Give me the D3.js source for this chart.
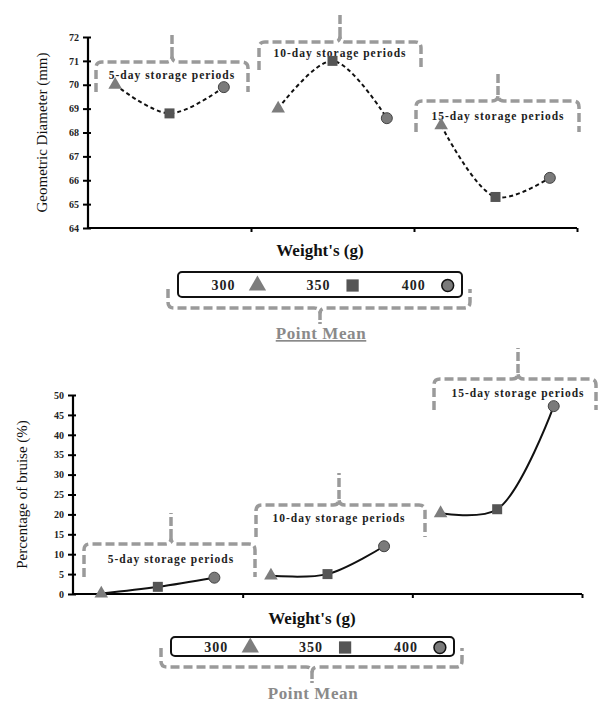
<!DOCTYPE html>
<html><head><meta charset="utf-8">
<script src="https://cdn.jsdelivr.net/npm/d3@7"></script>
<style>
body{margin:0;background:#fff;}
svg{display:block;}
text{font-family:"Liberation Serif","Times New Roman",serif;}
</style></head>
<body><svg id="c" width="598" height="704"></svg>
<script>
// ---------- data ----------
const weights = ["300", "350", "400"];
const periods = ["5-day storage periods", "10-day storage periods", "15-day storage periods"];
const diameter5  = [70.0, 68.8, 69.9];
const diameter10 = [69.0, 71.0, 68.6];
const diameter15 = [68.3, 65.3, 66.1];
const bruise5  = [0.1, 1.8, 4.1];
const bruise10 = [4.6, 5.0, 12.0];
const bruise15 = [20.3, 21.3, 47.2];
const diameterTicks = [64, 65, 66, 67, 68, 69, 70, 71, 72];
const bruiseTicks = [0, 5, 10, 15, 20, 25, 30, 35, 40, 45, 50];
const xTitle = "Weight's (g)";
const legendTitle = "Point Mean";

const svg = d3.select("#c");
const GREY = "#9a9a9a";
const MARK = {tri: "#7d7d7d", sq: "#555", circ: "#7a7a7a"};
const shapes = [d3.symbolTriangle, d3.symbolSquare, d3.symbolCircle];
const shapeFill = [MARK.tri, MARK.sq, MARK.circ];

function brace(g, x0, x1, xc, yTop, yEnd, ySpike) {
  const r = 6;
  const p = `M${x0},${yEnd} V${yTop + r} Q${x0},${yTop} ${x0 + r},${yTop} H${xc - 6} Q${xc},${yTop} ${xc},${yTop - 6} Q${xc},${yTop} ${xc + 6},${yTop} H${x1 - r} Q${x1},${yTop} ${x1},${yTop + r} V${yEnd}`;
  g.append("path").attr("d", p).attr("fill", "none").attr("stroke", GREY)
    .attr("stroke-width", 3.5).attr("stroke-dasharray", "9,4");
  g.append("path").attr("d", `M${xc},${yTop - 6} V${ySpike}`).attr("fill", "none").attr("stroke", GREY)
    .attr("stroke-width", 3.5).attr("stroke-dasharray", "9,3");
}
function braceDown(g, x0, x1, xc, yEnd, yBot, ySpike) {
  const r = 6;
  const p = `M${x0},${yEnd} V${yBot - r} Q${x0},${yBot} ${x0 + r},${yBot} H${xc - 6} Q${xc},${yBot} ${xc},${yBot + 6} Q${xc},${yBot} ${xc + 6},${yBot} H${x1 - r} Q${x1},${yBot} ${x1},${yBot - r} V${yEnd}`;
  g.append("path").attr("d", p).attr("fill", "none").attr("stroke", GREY)
    .attr("stroke-width", 3.5).attr("stroke-dasharray", "9,4");
  g.append("path").attr("d", `M${xc},${yBot + 6} V${ySpike}`).attr("fill", "none").attr("stroke", GREY)
    .attr("stroke-width", 3.5).attr("stroke-dasharray", "6,2");
}

function chart(cfg) {
  const g = svg.append("g");
  const cats = [];
  periods.forEach((p, i) => weights.forEach(w => cats.push(p + "|" + w)));
  const x = d3.scalePoint(cats, [cfg.x0, cfg.x1]).padding(0.5);
  const gx = d3.scaleLinear([0, 3], [cfg.x0, cfg.x1]);
  const y = d3.scaleLinear(cfg.domain, [cfg.yb, cfg.yt]);

  // brackets + labels
  cfg.braces.forEach((b, i) => {
    brace(g, b[0], b[1], b[2], b[3], b[4], b[5]);
    g.append("text").attr("x", b[2]).attr("y", b[6]).attr("text-anchor", "middle")
      .attr("font-size", 11.5).attr("font-weight", "bold").attr("letter-spacing", 1)
      .attr("fill", "#222").text(periods[i]);
  });

  // axes
  const ya = g.append("g").attr("transform", `translate(${cfg.x0},0)`)
    .call(d3.axisLeft(y).tickValues(cfg.ticks).tickSize(5).tickPadding(4));
  ya.select(".domain").attr("stroke-width", 2.2).attr("d", `M0,${cfg.yt}V${cfg.yb}`);
  ya.selectAll(".tick line").attr("x2", -5).attr("x1", 3).attr("stroke-width", 2);
  ya.selectAll(".tick text").attr("font-family", "Liberation Serif").attr("font-weight", "bold")
    .attr("font-size", 10).attr("fill", "#222");

  const xa = g.append("g").attr("transform", `translate(0,${cfg.yb})`)
    .call(d3.axisBottom(gx).tickValues([1, 2, 3]).tickSize(4).tickFormat(""));
  xa.select(".domain").attr("stroke-width", 2.2).attr("d", `M${cfg.x0},0H${cfg.x1}`);
  xa.selectAll(".tick line").attr("stroke-width", 2);

  // y title
  g.append("text").attr("transform", `translate(${cfg.ytx},${(cfg.yt + cfg.yb) / 2}) rotate(-90)`)
    .attr("text-anchor", "middle").attr("font-size", 15).attr("fill", "#111").text(cfg.ytitle);

  // lines & markers
  const line = d3.line().x(d => x(d.c)).y(d => y(d.v)).curve(d3.curveCatmullRom.alpha(0.5));
  cfg.series.forEach((s, i) => {
    const pts = s.map((v, j) => ({c: periods[i] + "|" + weights[j], v, j}));
    g.append("path").datum(pts).attr("d", line).attr("fill", "none").attr("stroke", "#111")
      .attr("stroke-width", 2).attr("stroke-dasharray", cfg.dash);
    g.selectAll(null).data(pts).join("path")
      .attr("transform", d => `translate(${x(d.c)},${y(d.v)})`)
      .attr("d", d => d3.symbol(shapes[d.j], d.j === 0 ? 80 : (d.j === 1 ? 100 : 95))())
      .attr("fill", d => shapeFill[d.j])
      .attr("stroke", d => d.j === 2 ? "#444" : "none").attr("stroke-width", 1);
  });

  // x title
  g.append("text").attr("x", cfg.legX).attr("y", cfg.xty).attr("text-anchor", "middle")
    .attr("font-size", 17).attr("font-weight", "bold").attr("fill", "#111").text(xTitle);

  // legend box
  const L = cfg.leg;
  g.append("rect").attr("x", L.x).attr("y", L.y).attr("width", L.w).attr("height", L.h)
    .attr("rx", 4).attr("fill", "#fff").attr("stroke", "#111").attr("stroke-width", 2);
  weights.forEach((w, j) => {
    const tx = L.x + L.w * (0.16 + j * 0.335);
    g.append("text").attr("x", tx).attr("y", L.y + L.h / 2 + 5).attr("text-anchor", "middle")
      .attr("font-size", 14).attr("font-weight", "bold").attr("letter-spacing", 1).attr("fill", "#222").text(w);
    g.append("path").attr("transform", `translate(${tx + 34},${L.y + L.h / 2 + 1})`)
      .attr("d", d3.symbol(shapes[j], j === 0 ? 130 : (j === 1 ? 150 : 110))())
      .attr("fill", shapeFill[j]).attr("stroke", j === 2 ? "#111" : "none").attr("stroke-width", 1.5);
  });
  braceDown(g, L.x - 10, L.x + L.w + 8, cfg.legX, L.y + L.h - 8, L.y + L.h + 11, L.y + L.h + 27);
  const pm = g.append("text").attr("x", cfg.legX + 1).attr("y", cfg.pmy).attr("text-anchor", "middle")
    .attr("font-size", 17).attr("font-weight", "bold").attr("fill", "#8a8a8a").attr("letter-spacing", 0.6)
    .text(legendTitle);
  if (cfg.underline) pm.attr("text-decoration", "underline");
}

chart({
  x0: 88, x1: 577, yt: 37, yb: 228, domain: [64, 72], ticks: diameterTicks,
  ytitle: "Geometric Diameter (mm)", ytx: 47, dash: "4,3",
  series: [diameter5, diameter10, diameter15],
  braces: [
    [96, 248, 172, 62, 92, 32, 79],
    [259, 421, 340, 42, 70, 13, 57],
    [416, 579, 498, 101, 132, 74, 120]
  ],
  legX: 320, xty: 256,
  leg: {x: 178, y: 272, w: 284, h: 25},
  pmy: 339, underline: true
});

chart({
  x0: 73, x1: 582, yt: 395, yb: 594, domain: [0, 50], ticks: bruiseTicks,
  ytitle: "Percentage of bruise (%)", ytx: 27, dash: null,
  series: [bruise5, bruise10, bruise15],
  braces: [
    [84, 255, 171, 544, 577, 513, 563],
    [256, 425, 339, 505, 537, 473, 522],
    [434, 596, 518, 379, 410, 348, 397]
  ],
  legX: 312, xty: 624,
  leg: {x: 171, y: 637, w: 283, h: 19},
  pmy: 699, underline: false
});
</script></body></html>
